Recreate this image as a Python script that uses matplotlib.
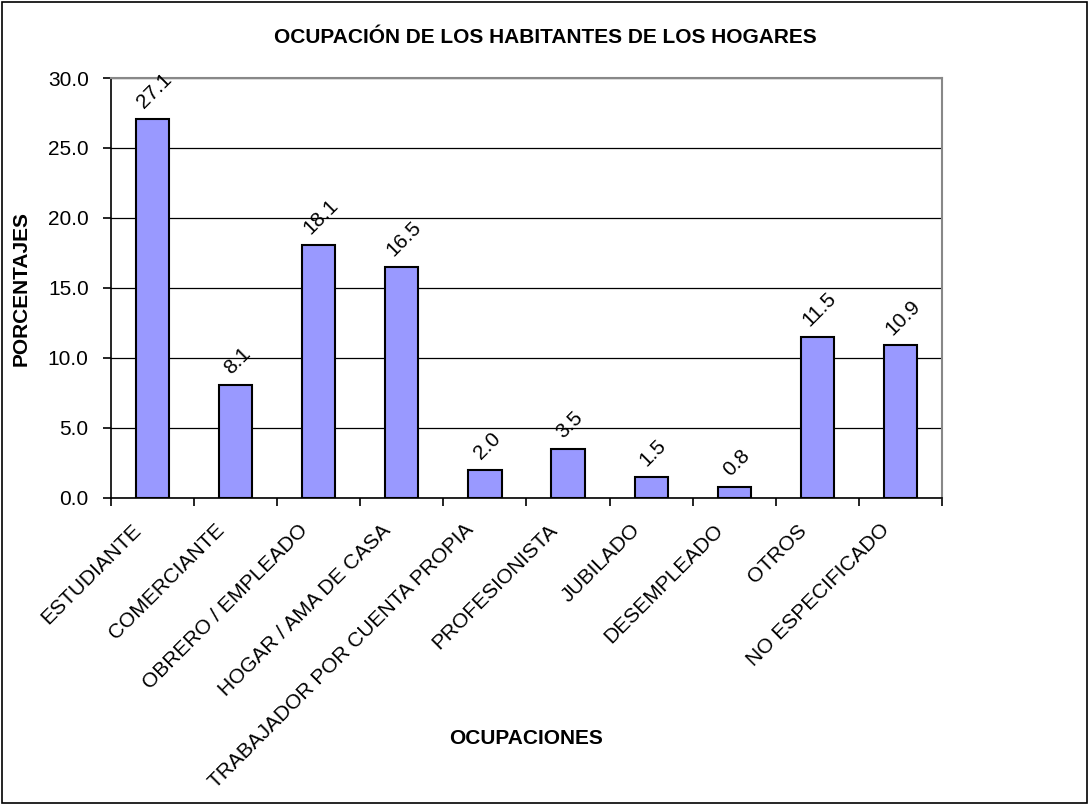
import numpy as np
import matplotlib.pyplot as plt
from matplotlib.patches import Rectangle
from matplotlib.transforms import ScaledTranslation

# data
ocupaciones = ["ESTUDIANTE", "COMERCIANTE", "OBRERO / EMPLEADO", "HOGAR / AMA DE CASA",
               "TRABAJADOR POR CUENTA PROPIA", "PROFESIONISTA", "JUBILADO",
               "DESEMPLEADO", "OTROS", "NO ESPECIFICADO"]
porcentajes = [27.1, 8.1, 18.1, 16.5, 2.0, 3.5, 1.5, 0.8, 11.5, 10.9]
y_ticks = [0, 5, 10, 15, 20, 25, 30]

plt.rcParams["font.family"] = ["Liberation Sans", "DejaVu Sans"]

fig = plt.figure(figsize=(10.89, 8.05), dpi=100)
ax = fig.add_axes([0.1019, 0.3814, 0.7631, 0.5217])

x = np.arange(len(ocupaciones))
ax.bar(x, porcentajes, width=0.4, color="#9999FF", edgecolor="black", linewidth=1.5, zorder=3)

# value labels, rotated like the original
for xi, v in zip(x, porcentajes):
    ax.annotate(f"{v:.1f}", (xi, v), xytext=(1.5, 5), textcoords="offset points",
                rotation=45, ha="center", va="bottom", fontsize=15)

ax.set_xlim(-0.5, len(ocupaciones) - 0.5)
ax.set_ylim(0, 30)
ax.set_yticks(y_ticks)
ax.set_yticklabels([f"{t:.1f}" for t in y_ticks], fontsize=15)
ax.yaxis.grid(True, color="black", linewidth=0.9, zorder=0)

ax.set_xticks(x)
ax.set_xticklabels(ocupaciones, rotation=45, ha="right", va="center",
                   rotation_mode="anchor", fontsize=15)
ax.tick_params(axis="x", length=0, pad=21)
shift = ScaledTranslation(-0.14, 0, fig.dpi_scale_trans)
for lab in ax.get_xticklabels():
    lab.set_transform(lab.get_transform() + shift)
ax.set_xticks(np.arange(len(ocupaciones) + 1) - 0.5, minor=True)
ax.tick_params(axis="x", which="minor", length=6, width=1.2)
ax.tick_params(axis="y", length=6, width=1.2, pad=10)

for side in ["top", "right"]:
    ax.spines[side].set_color("#888888")
    ax.spines[side].set_linewidth(1.5)
for side in ["left", "bottom"]:
    ax.spines[side].set_color("black")
    ax.spines[side].set_linewidth(1.2)

fig.text(0.5005, 0.953, "OCUPACIÓN DE LOS HABITANTES DE LOS HOGARES",
         ha="center", va="center", fontsize=15, fontweight="bold")
fig.text(0.4835, 0.083, "OCUPACIONES", ha="center", va="center", fontsize=15, fontweight="bold")
fig.text(0.0195, 0.642, "PORCENTAJES", ha="center", va="center", rotation=90,
         fontsize=15, fontweight="bold")

# outer frame
fig.patches.append(Rectangle((0.002, 0.003), 0.996, 0.994, transform=fig.transFigure,
                             fill=False, edgecolor="black", linewidth=1.2))

fig.savefig("out.png", dpi=100)
